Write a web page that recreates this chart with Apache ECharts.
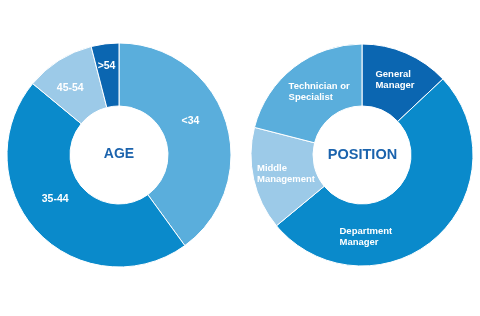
<!DOCTYPE html>
<html><head><meta charset="utf-8">
<script src="https://cdn.jsdelivr.net/npm/echarts@6/dist/echarts.min.js"></script>
<style>html,body{margin:0;padding:0;background:#fff}#c{width:480px;height:316px}</style>
</head><body><div id="c"></div>
<script>
var ageCategories = ['<34', '35-44', '45-54', '>54'];
var ageValues = [40, 46, 10, 4];
var positionCategories = ['General\nManager', 'Department\nManager', 'Middle\nManagement', 'Technician or\nSpecialist'];
var positionValues = [13, 51, 15, 21];
var centerTitles = ['AGE', 'POSITION'];

var ageColors = ['#5aaedc', '#0a8acb', '#9ccae8', '#0b66b1'];
var posColors = ['#0b66b1', '#0a8acb', '#9ccae8', '#5aaedc'];
var ageLabelShift = [[-8, -8], [-3, -13], [-4, 4], [-2, -6]];
var posLabelShift = [[0, 1], [-51, 20], [5, 1], [8, 2]];
var FONT = 'Liberation Sans, Arial, sans-serif';

function mk(cats, vals, cols) {
  return cats.map(function (c, i) { return { name: c, value: vals[i], itemStyle: { color: cols[i] } }; });
}
function layoutFn(shifts) {
  return function (p) {
    var s = shifts[p.dataIndex] || [0, 0];
    return { x: p.labelRect.x + s[0], y: p.labelRect.y + s[1], align: 'left', verticalAlign: 'top' };
  };
}
var labelBase = { show: true, position: 'inside', formatter: '{b}', color: '#fff', fontWeight: 'bold', fontFamily: FONT };

var chart = echarts.init(document.getElementById('c'), null, { renderer: 'canvas' });
chart.setOption({
  animation: false,
  graphic: [
    { type: 'text', x: 119, y: 154, style: { text: centerTitles[0], fill: '#1b63ad', font: 'bold 14px ' + FONT, textAlign: 'center', textVerticalAlign: 'middle' } },
    { type: 'text', x: 362.5, y: 155, style: { text: centerTitles[1], fill: '#1b63ad', font: 'bold 14.5px ' + FONT, textAlign: 'center', textVerticalAlign: 'middle' } }
  ],
  series: [
    { type: 'pie', center: [119, 155], radius: [49, 112], startAngle: 90, clockwise: true,
      itemStyle: { borderColor: '#fff', borderWidth: 1 },
      label: Object.assign({}, labelBase, { fontSize: 10.5 }),
      labelLine: { show: false }, labelLayout: layoutFn(ageLabelShift),
      data: mk(ageCategories, ageValues, ageColors) },
    { type: 'pie', center: [362, 155], radius: [49, 111], startAngle: 90, clockwise: true,
      itemStyle: { borderColor: '#fff', borderWidth: 1 },
      label: Object.assign({}, labelBase, { fontSize: 9.5, lineHeight: 11 }),
      labelLine: { show: false }, labelLayout: layoutFn(posLabelShift),
      data: mk(positionCategories, positionValues, posColors) }
  ]
});
</script></body></html>
